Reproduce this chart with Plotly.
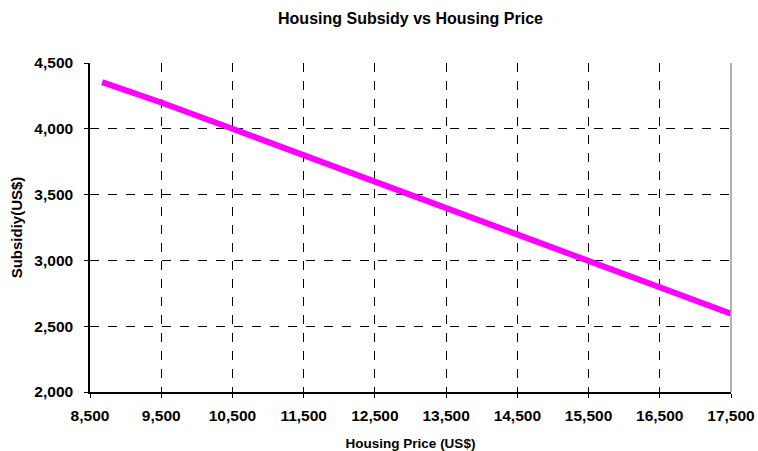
import plotly.graph_objects as go

price = [8670, 9500, 10500, 11500, 12500, 13500, 14500, 15500, 16500, 17500]
subsidy = [4355, 4200, 4000, 3800, 3600, 3400, 3200, 3000, 2800, 2595]
x_ticks = [8500, 9500, 10500, 11500, 12500, 13500, 14500, 15500, 16500, 17500]
y_ticks = [2000, 2500, 3000, 3500, 4000, 4500]

FONT = "Liberation Sans, Arial, sans-serif"

W, H = 758, 451

fig = go.Figure()
fig.add_trace(go.Scatter(x=price, y=subsidy, mode="lines",
                         line=dict(color="#FF00FF", width=6), showlegend=False))

fig.update_layout(
    width=W, height=H,
    paper_bgcolor="white", plot_bgcolor="white",
    margin=dict(l=89.5, r=27, t=63, b=59, autoexpand=False),
    title=dict(text="<b>Housing Subsidy vs Housing Price</b>", x=0.5, xanchor="center",
               xref="paper", yref="container", y=1 - 18.5 / H, yanchor="middle",
               font=dict(family=FONT, size=16, color="black")),
    font=dict(family=FONT, color="black"),
    shapes=[dict(type="line", xref="paper", yref="paper", x0=1, x1=1, y0=0, y1=1,
                 line=dict(color="#999999", width=1.5))],
)
fig.update_xaxes(
    range=[8500, 17500], tickvals=x_ticks, ticktext=[f"<b>{v:,}</b>" for v in x_ticks],
    showgrid=True, gridcolor="black", griddash="dash", gridwidth=1,
    showline=True, linecolor="black", linewidth=1.5,
    ticks="outside", ticklen=4, tickcolor="black",
    tickfont=dict(family=FONT, size=15.5, color="black"),
    ticklabelstandoff=5,
    title=dict(text="<b>Housing Price (US$)</b>", font=dict(family=FONT, size=13.5), standoff=15),
    zeroline=False, automargin=False,
)
fig.update_yaxes(
    range=[2000, 4500], tickvals=y_ticks, ticktext=[f"<b>{v:,}</b>" for v in y_ticks],
    showgrid=True, gridcolor="black", griddash="dash", gridwidth=1,
    showline=True, linecolor="black", linewidth=1.5,
    ticks="outside", ticklen=4, tickcolor="black",
    tickfont=dict(family=FONT, size=15.5, color="black"),
    ticklabelstandoff=8,
    title=dict(text="<b>Subsidiy(US$)</b>", font=dict(family=FONT, size=15), standoff=8),
    zeroline=False, automargin=False,
)

fig.write_html(
    "out.html",
    config={"displayModeBar": False},
    post_script="document.documentElement.style.overflow='hidden';"
                "document.body.style.margin='0';document.body.style.overflow='hidden';",
)
